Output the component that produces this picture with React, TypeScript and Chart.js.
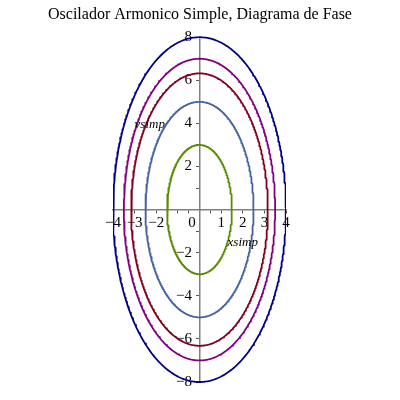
import React, { useEffect, useRef } from "react";
import { Chart, registerables } from "chart.js";

Chart.register(...registerables);

const titleText = "Oscilador Armonico Simple, Diagrama de Fase";
// amplitudes of position (x) and velocity (v) for each orbit
const xAmplitudes = [4, 3.5, 3.16, 2.5, 1.5];
const vAmplitudes = [8, 7, 6.32, 5, 3];
const colors = ["#000080", "#800080", "#800020", "#44649e", "#5a8a00"];
const xTickLabels = ["-4", "-3", "-2", "0", "1", "2", "3", "4"];
const yTickLabels = ["-8", "-6", "-4", "-2", "2", "4", "6", "8"];
const xLabel = "xsimp";
const yLabel = "vsimp";

const SAMPLES = 480;

function orbit(a: number, b: number) {
  const pts: { x: number; y: number }[] = [];
  for (let i = 0; i <= SAMPLES; i++) {
    const t = (2 * Math.PI * i) / SAMPLES;
    pts.push({ x: a * Math.cos(t), y: b * Math.sin(t) });
  }
  return pts;
}

const minus = (s: string) => s.replace("-", "\u2212");
const FONT = "'Liberation Serif', 'Times New Roman', serif";

const axisLabelPlugin = {
  id: "axisLabels",
  afterDraw(chart: any) {
    const { ctx, scales } = chart;
    const xs = scales.x;
    const ys = scales.y;
    ctx.save();
    ctx.fillStyle = "#000";
    ctx.font = "italic 13px " + FONT;
    ctx.textAlign = "center";
    ctx.textBaseline = "middle";
    ctx.fillText(xLabel, xs.getPixelForValue(2.0), ys.getPixelForValue(-1.55));
    ctx.fillText(yLabel, xs.getPixelForValue(-2.3), ys.getPixelForValue(3.95));
    ctx.restore();
  },
};

const spacer = (w: number) => ({
  type: "linear" as const,
  axis: "y" as const,
  display: true,
  border: { display: false },
  grid: { display: false },
  ticks: { display: false },
  afterFit: (s: any) => {
    s.width = w;
  },
});

export default function App() {
  const ref = useRef<HTMLCanvasElement | null>(null);
  useEffect(() => {
    document.body.style.margin = "0";
    if (!ref.current) return;
    const chart = new Chart(ref.current, {
      type: "scatter",
      data: {
        datasets: xAmplitudes.map((a, i) => ({
          data: orbit(a, vAmplitudes[i]),
          showLine: true,
          borderColor: colors[i],
          backgroundColor: colors[i],
          borderWidth: 1.8,
          borderJoinStyle: "round" as const,
          pointRadius: 0,
          fill: false,
          tension: 0,
        })),
      },
      options: {
        animation: false,
        responsive: false,
        maintainAspectRatio: false,
        layout: { padding: { left: 0, right: 0, top: 0, bottom: 18 } },
        plugins: {
          legend: { display: false },
          tooltip: { enabled: false },
          title: {
            display: true,
            text: titleText,
            color: "#000",
            font: { family: FONT, size: 16, weight: "normal", lineHeight: 1.2 },
            padding: { top: 5, bottom: 13 },
          },
        },
        scales: {
          padL: { ...spacer(113), position: "left" },
          padR: { ...spacer(114), position: "right" },
          x: {
            type: "linear",
            min: -4,
            max: 4,
            position: { y: 0 } as any,
            border: { color: "#808080", width: 1.5 },
            grid: { drawOnChartArea: false, drawTicks: true, tickLength: 3, color: "#555" },
            ticks: {
              stepSize: 0.5,
              autoSkip: false,
              maxRotation: 0,
              padding: 1,
              color: "#000",
              font: { family: FONT, size: 15 },
              callback: (v: any) => {
                const s = String(v);
                if (!xTickLabels.includes(s)) return "";
                if (s === "0") return "0    ";
                return minus(s);
              },
            },
          },
          y: {
            type: "linear",
            min: -8,
            max: 8,
            position: { x: 0 } as any,
            border: { color: "#808080", width: 1.5 },
            grid: { drawOnChartArea: false, drawTicks: true, tickLength: 3, color: "#555" },
            ticks: {
              stepSize: 1,
              autoSkip: false,
              padding: 2,
              color: "#000",
              font: { family: FONT, size: 15 },
              callback: (v: any) => {
                const s = String(v);
                return yTickLabels.includes(s) ? minus(s) + "  " : "";
              },
            },
          },
        },
      },
      plugins: [axisLabelPlugin],
    });
    return () => chart.destroy();
  }, []);
  return (
    <div style={{ position: "fixed", left: 0, top: 0, width: 400, height: 400, background: "#fff" }}>
      <canvas ref={ref} width={400} height={400} style={{ width: 400, height: 400 }} />
    </div>
  );
}
